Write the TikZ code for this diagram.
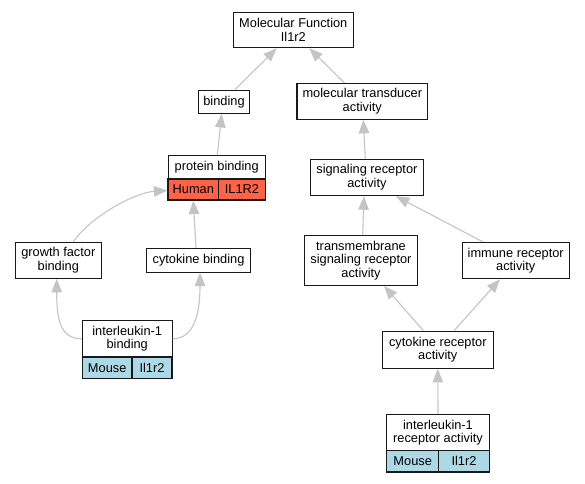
\documentclass[tikz,border=0pt]{standalone}
\usepackage{fontspec}
\setmainfont{Liberation Sans}
\usetikzlibrary{arrows.meta,calc}
\definecolor{humanred}{HTML}{FF6347}
\definecolor{mouseblue}{HTML}{ADD8E6}
\definecolor{edgegray}{HTML}{C4C4C4}
\begin{document}
\begin{tikzpicture}[x=1pt,y=-1pt,
  box/.style={draw=black!90, line width=1.1pt, inner sep=0pt, align=center,
    font=\fontsize{12.8}{13.6}\selectfont, fill=white},
  redcell/.style={box, fill=humanred},
  bluecell/.style={box, fill=mouseblue},
  edge/.style={draw=edgegray, line width=1.1pt, -{Triangle[length=13.5pt,width=10.5pt]}}]
\useasboundingbox (0,0) rectangle (585,483);
\fill[white] (0,0) rectangle (585,483);

% nodes
\node[box, minimum width=120, minimum height=35.4] (mf) at (293.3,30) {Molecular Function\\Il1r2};
\node[box, minimum width=50.6, minimum height=23.3] (bind) at (224,101.7) {binding};
\node[box, minimum width=130.7, minimum height=36] (mta) at (362.3,101.3) {molecular transducer\\activity};
\node[box, minimum width=97.3, minimum height=23.3] (pbt) at (216.7,167.3) {protein binding};
\node[redcell, minimum width=50.7, minimum height=21] (pbh) at (193.3,189.5) {Human};
\node[redcell, minimum width=46.6, minimum height=21] (pbg) at (242,189.5) {IL1R2};
\node[box, minimum width=112.3, minimum height=36.5] (sra) at (366.9,177.4) {signaling receptor\\activity};
\node[box, minimum width=86, minimum height=36] (gfb) at (58.3,260.3) {growth factor\\binding};
\node[box, minimum width=103.6, minimum height=23.7] (cb) at (198.5,260.2) {cytokine binding};
\node[box, minimum width=89.7, minimum height=36.3] (il1bt) at (127.2,338.8) {interleukin-1\\binding};
\node[bluecell, minimum width=49.7, minimum height=21.3] (il1bs) at (107.2,367.7) {Mouse};
\node[bluecell, minimum width=40, minimum height=21.3] (il1bg) at (152,367.7) {Il1r2};
\node[box, minimum width=112.6, minimum height=49.6] (tsra) at (361,260.5) {transmembrane\\signaling receptor\\activity};
\node[box, minimum width=107.3, minimum height=36.4] (ira) at (515.7,260.5) {immune receptor\\activity};
\node[box, minimum width=111, minimum height=37.3] (cra) at (437.8,349.7) {cytokine receptor\\activity};
\node[box, minimum width=102.6, minimum height=36.4] (il1rt) at (438,432.5) {interleukin-1\\receptor activity};
\node[bluecell, minimum width=52, minimum height=21.3] (il1rs) at (412.7,461.3) {Mouse};
\node[bluecell, minimum width=50.6, minimum height=21.3] (il1rg) at (464,461.3) {Il1r2};

% edges
\draw[edge] ($(bind.north)+(11,0)$) -- ($(mf.south)+(-16.6,0)$);
\draw[edge] ($(mta.north)+(-18,0)$) -- ($(mf.south)+(16,0)$);
\draw[edge] ($(pbt.north)+(0.6,0)$) -- ($(bind.south)+(-2.3,0)$);
\draw[edge] ($(sra.north)+(-1.6,0)$) -- ($(mta.south)+(1,0)$);
\draw[edge] ($(gfb.north)+(15,0)$) .. controls +(18,-26) and +(-32,2) .. ($(pbh.west)+(0,1)$);
\draw[edge] ($(cb.north)+(-2.5,0)$) -- (pbh.south);
\draw[edge] (il1bt.west) .. controls +(-22,0) and +(0,40) .. ($(gfb.south)+(-1.6,0)$);
\draw[edge] (il1bt.east) .. controls +(22,0) and +(0,40) .. ($(cb.south)+(1.5,0)$);
\draw[edge] ($(tsra.north)+(1.7,0)$) -- ($(sra.south)+(-2.9,0)$);
\draw[edge] ($(ira.north)+(-33,0)$) -- ($(sra.south)+(29,0)$);
\draw[edge] ($(cra.north)+(-14.5,0)$) -- ($(tsra.south)+(23,0)$);
\draw[edge] ($(cra.north)+(16.5,0)$) -- ($(ira.south)+(-15.7,0)$);
\draw[edge] (il1rt.north) -- (cra.south);
\end{tikzpicture}
\end{document}
